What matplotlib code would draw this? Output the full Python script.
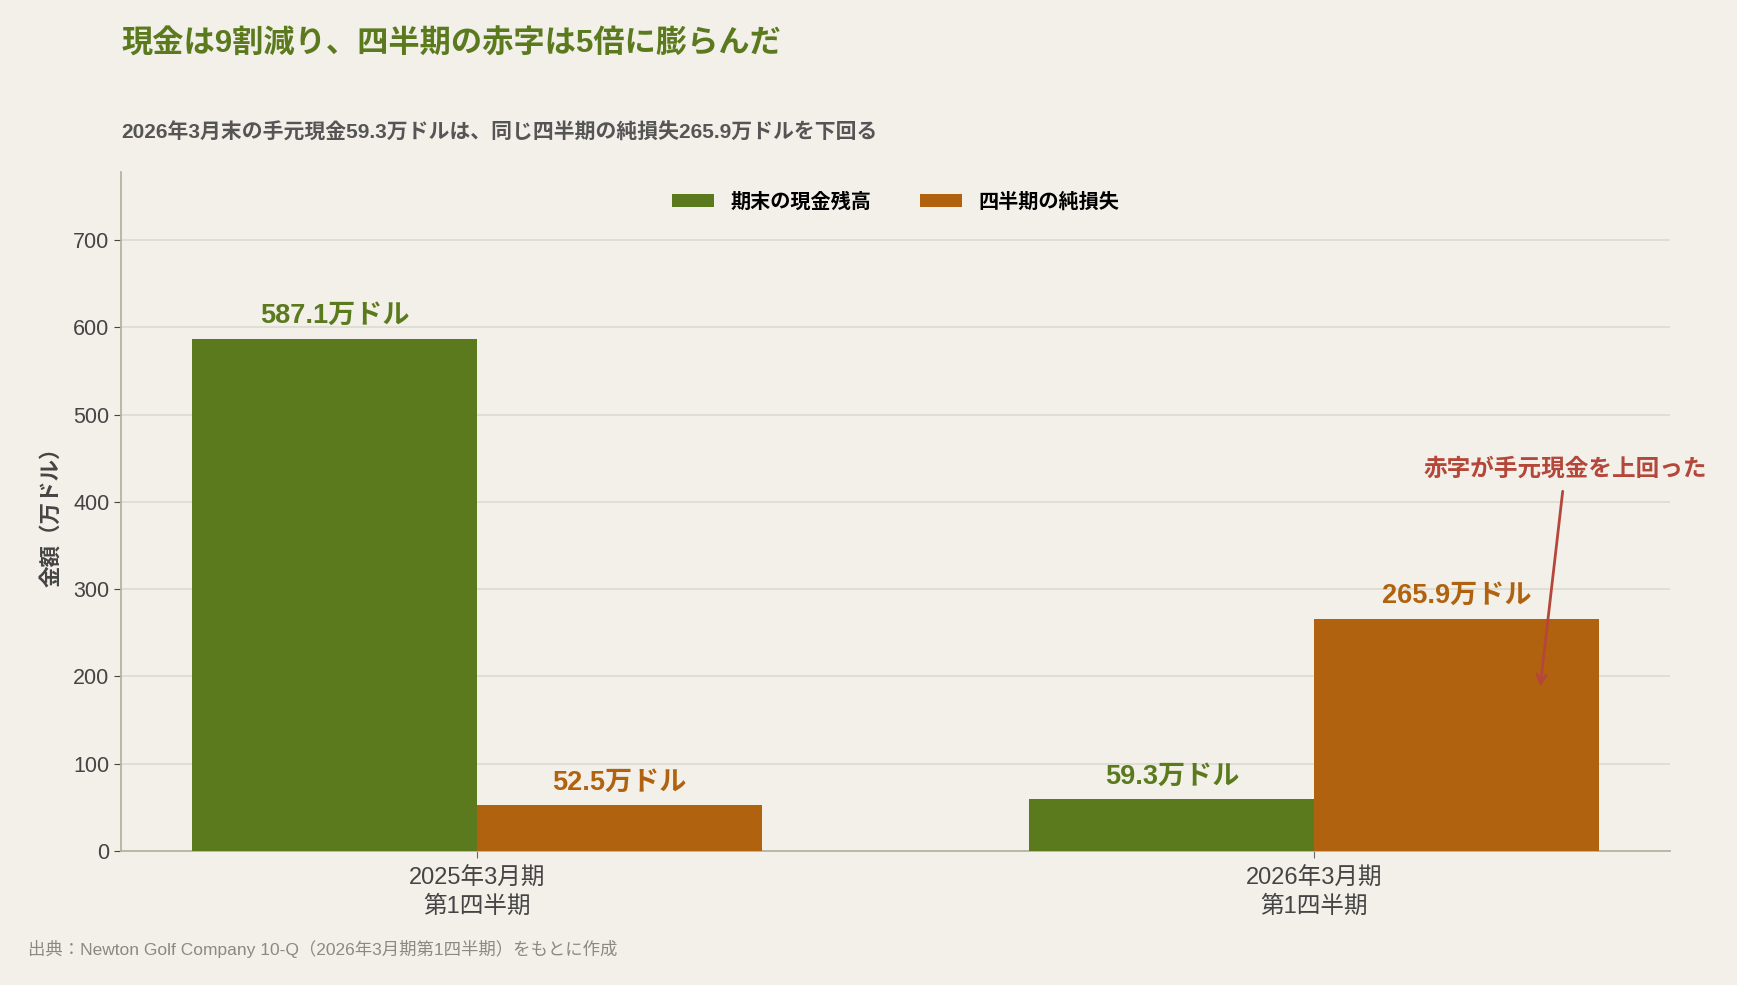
import numpy as np
import matplotlib
matplotlib.use("Agg")
import matplotlib.pyplot as plt

plt.rcParams['font.family'] = ['Liberation Sans', 'Noto Sans CJK JP', 'DejaVu Sans']

periods = ["2025年3月期\n第1四半期", "2026年3月期\n第1四半期"]
cash = [587.1, 59.3]
net_loss = [52.5, 265.9]
series_names = ["期末の現金残高", "四半期の純損失"]

title = "現金は9割減り、四半期の赤字は5倍に膨らんだ"
subtitle = "2026年3月末の手元現金59.3万ドルは、同じ四半期の純損失265.9万ドルを下回る"
source = "出典：Newton Golf Company 10-Q（2026年3月期第1四半期）をもとに作成"
note = "赤字が手元現金を上回った"

bg = "#f3f0ea"
green = "#5b7a1e"
orange = "#b0620f"
red = "#b5473a"

fig = plt.figure(figsize=(17.37, 9.85), dpi=100, facecolor=bg)
ax = fig.add_axes([0.0697, 0.136, 0.8917, 0.6894])
ax.set_facecolor(bg)

x = np.arange(len(periods))
w = 0.34
b1 = ax.bar(x - w / 2, cash, w, color=green, label=series_names[0], zorder=3)
b2 = ax.bar(x + w / 2, net_loss, w, color=orange, label=series_names[1], zorder=3)

ax.bar_label(b1, labels=[f"{v:.1f}万ドル" for v in cash], padding=7,
             color=green, fontsize=19.5, fontweight='bold')
ax.bar_label(b2, labels=[f"{v:.1f}万ドル" for v in net_loss], padding=7,
             color=orange, fontsize=19.5, fontweight='bold')

ax.set_xlim(-0.425, 1.425)
ax.set_ylim(0, 778)
ax.set_yticks(np.arange(0, 701, 100))
ax.set_xticks(x)
ax.set_xticklabels(periods, fontsize=17, color="#444444", linespacing=1.3)
ax.tick_params(axis='y', labelsize=15.5, labelcolor="#444444", color="#444444", length=5)
ax.tick_params(axis='x', color="#666666", length=5, pad=7)
ax.grid(axis='y', color="#dcdbd0", linewidth=1.2, zorder=0)

for s in ["top", "right"]:
    ax.spines[s].set_visible(False)
for s in ["left", "bottom"]:
    ax.spines[s].set_color("#b0b5a0")
    ax.spines[s].set_linewidth(1.3)

ax.set_ylabel("金額（万ドル）", fontsize=15.5, fontweight='bold', color="#444444", labelpad=8)

ax.legend(loc='upper center', bbox_to_anchor=(0.5, 0.997), ncol=2, frameon=False,
          prop={'size': 14.5, 'weight': 'bold'}, handlelength=2.1, handleheight=0.65,
          columnspacing=2.4)

ax.annotate(note, xy=(1.27, 188), xytext=(1.30, 438), ha='center', va='center',
            fontsize=17, fontweight='bold', color=red,
            arrowprops=dict(arrowstyle='->', color=red, lw=2, shrinkA=6, shrinkB=0))

fig.text(0.0697, 0.955, title, fontsize=22.5, fontweight='bold', color=green, va='center')
fig.text(0.0697, 0.865, subtitle, fontsize=15, fontweight='bold', color="#555555", va='center')
fig.text(0.016, 0.037, source, fontsize=12.5, color="#8a8a80", va='center')

fig.savefig("out.png", dpi=100, facecolor=bg)
